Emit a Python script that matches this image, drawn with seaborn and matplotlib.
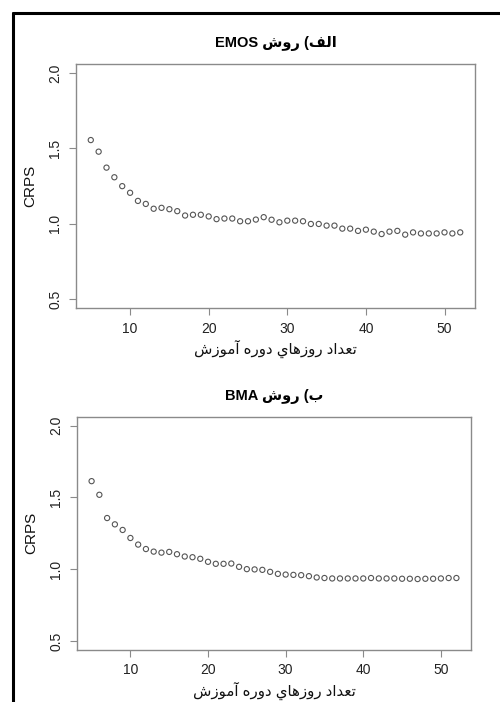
import matplotlib
matplotlib.use("Agg")
import matplotlib.pyplot as plt
from matplotlib.lines import Line2D
import seaborn as sns

# data
days = list(range(5, 53))
emos_crps = [1.555, 1.478, 1.372, 1.308, 1.249, 1.205, 1.151, 1.131, 1.099, 1.105,
             1.096, 1.083, 1.054, 1.059, 1.059, 1.048, 1.030, 1.034, 1.034, 1.016,
             1.016, 1.027, 1.043, 1.026, 1.009, 1.020, 1.020, 1.016, 0.998, 0.998,
             0.987, 0.987, 0.967, 0.967, 0.952, 0.960, 0.947, 0.931, 0.947, 0.952,
             0.927, 0.942, 0.935, 0.935, 0.935, 0.942, 0.935, 0.942]
bma_crps = [1.613, 1.518, 1.356, 1.312, 1.273, 1.217, 1.171, 1.140, 1.122, 1.115,
            1.120, 1.104, 1.088, 1.083, 1.072, 1.051, 1.037, 1.037, 1.039, 1.016,
            1.000, 0.998, 0.995, 0.981, 0.967, 0.962, 0.960, 0.958, 0.951, 0.942,
            0.938, 0.935, 0.935, 0.935, 0.935, 0.935, 0.938, 0.935, 0.935, 0.935,
            0.933, 0.933, 0.931, 0.933, 0.933, 0.935, 0.938, 0.938]
titles = ["الف) روش EMOS", "ب) روش BMA"]
xlabel = "تعداد روزهاي دوره آموزش"
ylabel = "CRPS"
yticks = [0.5, 1.0, 1.5, 2.0]
xticks = [10, 20, 30, 40, 50]

# matplotlib has no arabic shaping, so map to presentation forms by hand
# (isolated, final, initial, medial); two entries = joins on the right only
FORMS = {
    "ا": ("\uFE8D", "\uFE8E"), "آ": ("\uFE81", "\uFE82"),
    "د": ("\uFEA9", "\uFEAA"), "ر": ("\uFEAD", "\uFEAE"),
    "ز": ("\uFEAF", "\uFEB0"), "و": ("\uFEED", "\uFEEE"),
    "ب": ("\uFE8F", "\uFE90", "\uFE91", "\uFE92"),
    "ت": ("\uFE95", "\uFE96", "\uFE97", "\uFE98"),
    "ش": ("\uFEB5", "\uFEB6", "\uFEB7", "\uFEB8"),
    "ع": ("\uFEC9", "\uFECA", "\uFECB", "\uFECC"),
    "ف": ("\uFED1", "\uFED2", "\uFED3", "\uFED4"),
    "ل": ("\uFEDD", "\uFEDE", "\uFEDF", "\uFEE0"),
    "م": ("\uFEE1", "\uFEE2", "\uFEE3", "\uFEE4"),
    "ه": ("\uFEE9", "\uFEEA", "\uFEEB", "\uFEEC"),
    "ي": ("\uFEF1", "\uFEF2", "\uFEF3", "\uFEF4"),
}
MIRROR = {"(": ")", ")": "("}


def shape_word(word):
    out = []
    for i, ch in enumerate(word):
        if ch not in FORMS:
            out.append(MIRROR.get(ch, ch))
            continue
        prev = word[i - 1] if i > 0 else None
        nxt = word[i + 1] if i + 1 < len(word) else None
        join_prev = prev in FORMS and len(FORMS[prev]) == 4
        join_next = len(FORMS[ch]) == 4 and nxt in FORMS
        f = FORMS[ch]
        if join_prev and join_next:
            out.append(f[3])
        elif join_prev:
            out.append(f[1])
        elif join_next:
            out.append(f[2])
        else:
            out.append(f[0])
    return "".join(reversed(out))


def rtl(text):
    words = []
    for w in text.split(" "):
        if any(c in FORMS for c in w):
            words.append(shape_word(w))
        else:
            words.append(w)
    return " ".join(reversed(words))


sns.set_style("ticks")
plt.rcParams["font.family"] = ["Liberation Sans", "DejaVu Sans"]

fig = plt.figure(figsize=(5, 7.02), dpi=100)
W, H = 500, 702
boxes = [(76, 64, 475, 308), (77, 417, 471, 649.5)]
series = [emos_crps, bma_crps]
frame_col = "#8a8a8a"

for (l, t, r, b), vals, title in zip(boxes, series, titles):
    ax = fig.add_axes([l / W, 1 - b / H, (r - l) / W, (b - t) / H])
    sns.scatterplot(x=days, y=vals, ax=ax, s=14, marker="o",
                    facecolor="none", edgecolor="#555555", linewidth=0.8)
    ax.set_xlim(3.12, 53.88)
    ax.set_ylim(0.44, 2.06)
    ax.set_xticks(xticks)
    ax.set_yticks(yticks)
    ax.set_yticklabels([f"{v:.1f}" for v in yticks], rotation=90, va="center")
    for s in ax.spines.values():
        s.set_visible(True)
        s.set_color(frame_col)
        s.set_linewidth(1.0)
    ax.tick_params(direction="out", length=5, width=0.8, color=frame_col,
                   labelsize=10, labelcolor="#222222", pad=5)
    ax.set_xlabel(rtl(xlabel), fontsize=10.8, labelpad=3, color="#111111")
    ax.set_ylabel(ylabel, fontsize=11, labelpad=8, color="#111111")
    ax.set_title(rtl(title), fontsize=10.5, fontweight="bold", pad=12,
                 color="black")

# black frame lines on the left and top edge
fig.add_artist(Line2D([12.5 / W, 12.5 / W], [0, 1 - 12.5 / H],
                      transform=fig.transFigure, color="black", lw=2.2))
fig.add_artist(Line2D([12.5 / W, 1], [1 - 13 / H, 1 - 13 / H],
                      transform=fig.transFigure, color="black", lw=2.2))

fig.savefig("out.png", dpi=100)
